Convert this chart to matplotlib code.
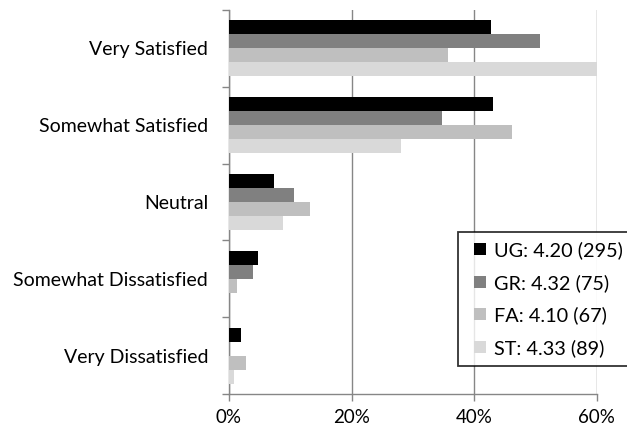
import numpy as np
import matplotlib
matplotlib.use("Agg")
import matplotlib.pyplot as plt
from matplotlib.lines import Line2D
from matplotlib.ticker import FixedLocator, PercentFormatter

plt.rcParams['font.family'] = ['Lato', 'DejaVu Sans']

categories = ['Very Satisfied', 'Somewhat Satisfied', 'Neutral',
              'Somewhat Dissatisfied', 'Very Dissatisfied']
series = ['UG: 4.20 (295)', 'GR: 4.32 (75)', 'FA: 4.10 (67)', 'ST: 4.33 (89)']
ug = [42.7, 43.0, 7.4, 4.7, 2.0]
gr = [50.7, 34.7, 10.6, 3.9, 0.0]
fa = [35.7, 46.2, 13.2, 1.4, 2.8]
st = [60.0, 28.0, 8.9, 0.0, 0.9]
colors = ['#000000', '#808080', '#bfbfbf', '#d9d9d9']

fig = plt.figure(figsize=(6.27, 4.34), dpi=100)
ax = fig.add_axes([0.365, 0.092, 0.587, 0.885])

y = np.arange(len(categories))
h = 0.182
for k, vals in enumerate([ug, gr, fa, st]):
    ax.barh(y + (k - 1.5) * h, vals, height=h, color=colors[k], zorder=3)

ax.set_xlim(0, 60)
ax.set_ylim(len(categories) - 0.5, -0.5)
ax.set_xticks([0, 20, 40, 60])
ax.xaxis.set_major_formatter(PercentFormatter(decimals=0))
ax.grid(axis='x', color='#868686', linewidth=1, zorder=0)

# labels at centres, tick marks at category boundaries
ax.set_yticks(y)
ax.set_yticklabels(categories)
ax.yaxis.set_minor_locator(FixedLocator(np.arange(-0.5, len(categories), 1.0)))
ax.tick_params(axis='y', which='major', length=0, pad=15, labelsize=14)
ax.tick_params(axis='y', which='minor', length=5, color='#868686', width=1)
ax.tick_params(axis='x', length=5, color='#868686', width=1, labelsize=13.5, pad=6)

for s in ['top', 'right']:
    ax.spines[s].set_visible(False)
for s in ['left', 'bottom']:
    ax.spines[s].set_color('#868686')
    ax.spines[s].set_linewidth(1)

handles = [Line2D([], [], linestyle='none', marker='s', markersize=8,
                  markerfacecolor=c, markeredgewidth=0) for c in colors]
leg = ax.legend(handles, series, loc='upper left', bbox_to_anchor=(0.622, 0.422),
                frameon=True, fancybox=False, edgecolor='black', fontsize=14.3,
                handlelength=1.3, handletextpad=0.05,
                labelspacing=0.74, borderpad=0.47, borderaxespad=0)
leg.get_frame().set_linewidth(1.3)
leg.set_zorder(5)

fig.savefig('out.png', dpi=100)
